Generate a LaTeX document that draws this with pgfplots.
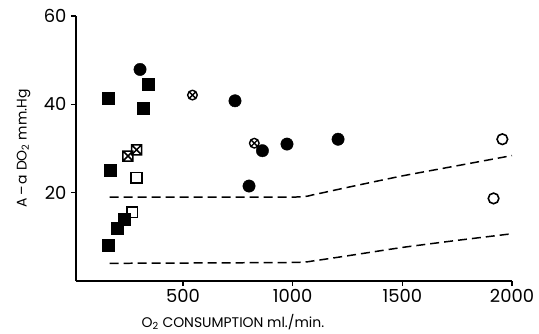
\documentclass[border=0pt]{standalone}
\usepackage{pgfplots}
\pgfplotsset{compat=1.18}
\usetikzlibrary{plotmarks}
\usepackage{fontspec}
\setmainfont{Poppins}
\pgfdeclareplotmark{squarex}{%
  \pgfpathrectangle{\pgfqpoint{-\pgfplotmarksize}{-\pgfplotmarksize}}{\pgfqpoint{2\pgfplotmarksize}{2\pgfplotmarksize}}%
  \pgfpathmoveto{\pgfqpoint{-\pgfplotmarksize}{-\pgfplotmarksize}}\pgfpathlineto{\pgfqpoint{\pgfplotmarksize}{\pgfplotmarksize}}%
  \pgfpathmoveto{\pgfqpoint{-\pgfplotmarksize}{\pgfplotmarksize}}\pgfpathlineto{\pgfqpoint{\pgfplotmarksize}{-\pgfplotmarksize}}%
  \pgfusepathqstroke}
\begin{document}
\begin{tikzpicture}
\begin{axis}[
  at={(0,0)}, anchor=south west,
  scale only axis, width=436bp, height=265bp,
  xmin=12, xmax=2000, ymin=0, ymax=60,
  axis x line*=bottom, axis y line*=left,
  axis line style={-, line width=1.2pt},
  xtick={500,1000,1500,2000}, ytick={20,40,60},
  tick align=outside, major tick length=5bp,
  tick style={line width=1.2pt, black},
  /pgf/number format/assume math mode=true,
  /pgf/number format/1000 sep={},
  ticklabel style={font=\fontsize{18}{18}\selectfont},
  xticklabel style={yshift=0bp},
  yticklabel style={xshift=-1bp},
  xlabel={O\textsubscript{2} CONSUMPTION ml./min.},
  xlabel style={at={(axis description cs:0.36,0)}, anchor=north, yshift=-30bp, font=\fontsize{14}{14}\selectfont},
  ylabel={A\,--\,a DO\textsubscript{2} mm.Hg},
  ylabel style={at={(axis description cs:0,0.5)}, anchor=south, yshift=42bp, font=\fontsize{14}{14}\selectfont},
  clip=false,
]
% dashed limits
\addplot[black, line width=1.5pt, dash pattern=on 9bp off 5bp, smooth, tension=0.3] coordinates {
  (165,19) (1000,19) (1100,19.6) (1250,21.2) (1500,23.8) (1750,26.1) (2000,28.4)};
\addplot[black, line width=1.5pt, dash pattern=on 9bp off 5bp, smooth, tension=0.3] coordinates {
  (165,4.0) (1000,4.2) (1100,4.6) (1250,5.7) (1500,7.6) (1750,9.2) (2000,10.7)};
% filled squares
\addplot[only marks, mark=square*, mark size=6bp, black] coordinates {
  (161,41.3) (340,44.5) (318,39.2) (170,25.1) (161,8.0) (198,11.9) (233,14.0)};
% filled circles
\addplot[only marks, mark=*, mark size=6.2bp, black] coordinates {
  (304,47.9) (737,40.8) (801,21.5) (862,29.5) (974,31.0) (1207,32.1)};
% open circles
\addplot[only marks, mark=o, mark size=5.3bp, black, mark options={line width=1.6pt}] coordinates {
  (1956,32.1) (1916,18.7)};
% open squares
\addplot[only marks, mark=square, mark size=5.3bp, black, mark options={line width=1.6pt, fill=white}] coordinates {
  (288,23.4) (269,15.6)};
% crossed squares
\addplot[only marks, mark=squarex, mark size=5bp, black, mark options={line width=1.5pt, fill=white}] coordinates {
  (249,28.3) (288,29.7)};
% circled crosses
\addplot[only marks, mark=otimes, mark size=4.8bp, black, mark options={line width=1.4pt}] coordinates {
  (543,42.1) (825,31.2)};
\end{axis}
\useasboundingbox (-76bp,-43bp) rectangle (463bp,281bp);
\end{tikzpicture}
\end{document}
